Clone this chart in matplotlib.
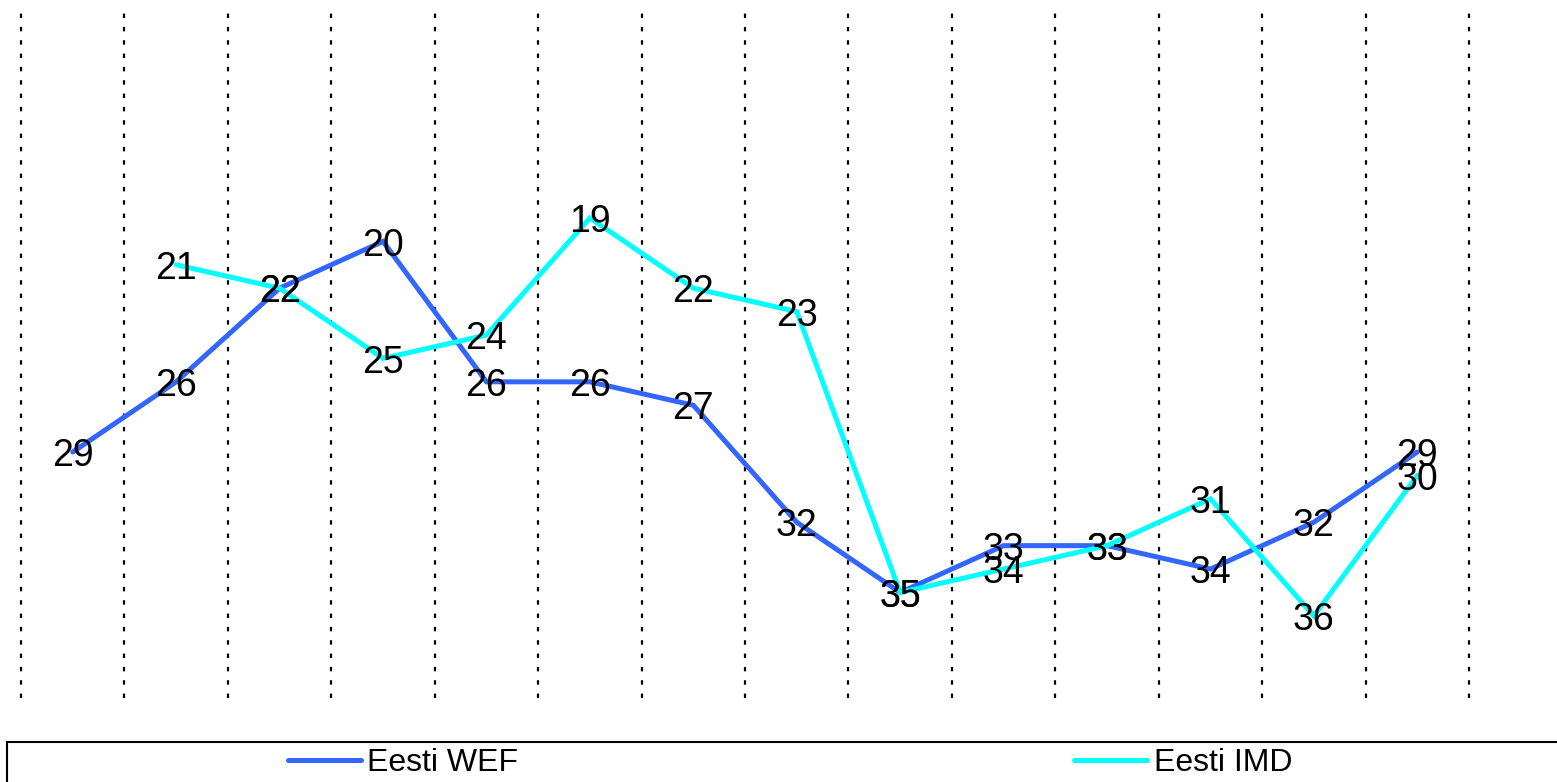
import matplotlib
matplotlib.use('Agg')
import matplotlib.pyplot as plt
from matplotlib.patches import Rectangle
import numpy as np

plt.rcParams['font.family'] = ['Liberation Sans', 'DejaVu Sans']

# Koht edetabelis (väiksem = parem), 14 perioodi
wef = [29, 26, 22, 20, 26, 26, 27, 32, 35, 33, 33, 34, 32, 29]
imd = [np.nan, 21, 22, 25, 24, 19, 22, 23, 35, 34, 33, 31, 36, 30]
nimed = ['Eesti WEF', 'Eesti IMD']
varvid = ['#3366ff', '#00ffff']

W, H = 1557, 782
fig = plt.figure(figsize=(W / 100, H / 100), dpi=100)
ax = fig.add_axes([21 / W, 1 - 698 / H, (1469 - 21) / W, (698 - 13) / H])

x = np.arange(len(wef)) + 0.5
joon = []
for seeria, nimi, v in zip([wef, imd], nimed, varvid):
    l, = ax.plot(x, seeria, color=v, lw=3.6, label=nimi,
                 solid_capstyle='round', solid_joinstyle='miter', zorder=3)
    joon.append(l)
    for xi, yi in zip(x, seeria):
        if np.isnan(yi):
            continue
        ax.annotate(str(int(yi)), (xi, yi), xytext=(0, -3), textcoords='offset points',
                    ha='center', va='center', fontsize=27, color='black', zorder=5)

ax.set_xlim(0, len(wef))
ax.set_ylim(39.51, 10.24)
ax.set_xticks(np.arange(len(wef) + 1))
ax.set_yticks([])
ax.tick_params(axis='x', length=0, labelbottom=False)
ax.grid(axis='x', color='black', lw=1.6, linestyle=(0, (2, 4)))
for g in ax.get_xgridlines():
    g.set_clip_on(False)
for s in ax.spines.values():
    s.set_visible(False)

# legendi raam
fig.add_artist(Rectangle((7 / W, -0.1), 1.2, 0.1 + 1 - 741.5 / H, transform=fig.transFigure,
                         fill=False, edgecolor='black', lw=1.5))
for l, cx in zip(joon, [403, 1183]):
    fig.legend(handles=[l], loc='center', bbox_to_anchor=(cx / W, 1 - 763 / H),
               frameon=False, fontsize=23, handlelength=2.3, handletextpad=0.2,
               borderpad=0, borderaxespad=0)

fig.savefig('out.png', dpi=100)
